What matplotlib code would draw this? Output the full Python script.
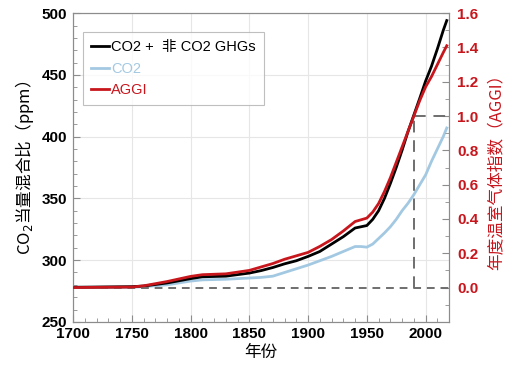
import matplotlib
matplotlib.use("Agg")
import matplotlib.pyplot as plt
from matplotlib.ticker import MultipleLocator

# ---- data ----
years = [1700, 1750, 1760, 1780, 1800, 1810, 1830, 1850, 1860, 1870, 1880, 1890,
         1900, 1910, 1920, 1930, 1940, 1945, 1950, 1955, 1960, 1965, 1970, 1975,
         1980, 1985, 1990, 1995, 2000, 2005, 2010, 2015, 2018]
co2_all = [278, 278.5, 279, 281.5, 285, 286.5, 287, 289.5, 291.5, 294, 297, 299.5,
           303, 307, 313, 319, 326, 327, 328, 333, 340, 350, 362, 375,
           389, 404, 417.5, 431, 445, 457, 471, 486, 494]
co2_only = [278, 278, 278.5, 280, 283, 284, 284.5, 285.5, 286, 287, 290, 293,
            296, 299.5, 303, 307, 311, 311, 310.5, 313, 317.5, 322, 327, 333,
            340, 346, 353, 361, 369, 380, 390, 400, 407]
aggi = [0, 0.003, 0.01, 0.035, 0.065, 0.075, 0.08, 0.10, 0.12, 0.14, 0.165, 0.185,
        0.205, 0.24, 0.28, 0.33, 0.385, 0.395, 0.405, 0.44, 0.49, 0.56, 0.64, 0.73,
        0.82, 0.91, 1.0, 1.09, 1.17, 1.23, 1.30, 1.37, 1.41]
ref_year = 1990
aggi_ticks = [0, 0.2, 0.4, 0.6, 0.8, 1.0, 1.2, 1.4, 1.6]

labels = ["CO2 +  非 CO2 GHGs", "CO2", "AGGI"]
c_black = "#000000"
c_blue = "#a3c9e2"
c_red = "#c8161d"
c_frame = "#8c8c8c"

cjk = ["Noto Sans CJK SC", "DejaVu Sans"]
latin_cjk = ["Liberation Sans", "Noto Sans CJK SC"]
tick_font = {"family": "Liberation Sans", "weight": "bold", "size": 11}

fig = plt.figure(figsize=(5.18, 3.76), dpi=100)
ax = fig.add_axes([0.141, 0.144, 0.726, 0.821])
ax2 = ax.twinx()

# left axis (ppm)
l1, = ax.plot(years, co2_only, color=c_blue, lw=2, zorder=2)
l0, = ax.plot(years, co2_all, color=c_black, lw=2, zorder=3)
ax.set_xlim(1700, 2020)
ax.set_ylim(250, 500)
ax.xaxis.set_major_locator(MultipleLocator(50))
ax.xaxis.set_minor_locator(MultipleLocator(10))
ax.yaxis.set_major_locator(MultipleLocator(50))
ax.yaxis.set_minor_locator(MultipleLocator(10))
ax.grid(True, which="major", color="#e6e6e6", lw=0.8)
ax.set_axisbelow(True)

# right axis (AGGI)
ax2.set_ylim(-0.2, 1.6)
ax2.set_xlim(1700, 2020)
l2, = ax2.plot(years, aggi, color=c_red, lw=2, zorder=4)
ax2.plot([1700, 2020], [0, 0], color="#6e6e6e", lw=1.4, ls=(0, (4, 3)))
ax2.plot([ref_year, ref_year], [0, 1.0], color="#6e6e6e", lw=1.4, ls=(0, (6, 4)))
ax2.plot([ref_year, 2020], [1.0, 1.0], color="#6e6e6e", lw=1.4, ls=(0, (6, 4)))
ax2.yaxis.set_minor_locator(MultipleLocator(0.1))
ax2.set_yticks(aggi_ticks)
ax2.set_yticklabels(["%.1f" % v for v in aggi_ticks])

for a in (ax, ax2):
    for s in a.spines.values():
        s.set_color(c_frame)
    a.tick_params(which="both", direction="in", color=c_frame)
    a.tick_params(which="major", length=5)
    a.tick_params(which="minor", length=3)

ax.tick_params(axis="both", which="major", pad=4)
for t in ax.get_xticklabels() + ax.get_yticklabels():
    t.set_fontproperties(tick_font)
ax2.tick_params(axis="y", which="major", pad=6)
for t in ax2.get_yticklabels():
    t.set_fontproperties(tick_font)
    t.set_color(c_red)

ax.set_xlabel("年份", family=cjk, fontsize=12, labelpad=2)
ax.set_ylabel("CO$_2$当量混合比（ppm）", family=cjk, fontsize=12, labelpad=4)
ax2.set_ylabel("年度温室气体指数（AGGI）", family=cjk, fontsize=12, color=c_red, labelpad=6)

leg = ax2.legend([l0, l1, l2], labels, loc="upper left", bbox_to_anchor=(0.027, 0.938),
                 borderaxespad=0, prop={"family": latin_cjk, "size": 10.5},
                 handlelength=1.2, handletextpad=0.15, frameon=True, fancybox=False,
                 edgecolor="#b0b0b0", borderpad=0.55, labelspacing=0.5)
leg.get_frame().set_linewidth(0.8)
for txt, col in zip(leg.get_texts(), [c_black, c_blue, c_red]):
    txt.set_color(col)

fig.savefig("out.png", dpi=100)
